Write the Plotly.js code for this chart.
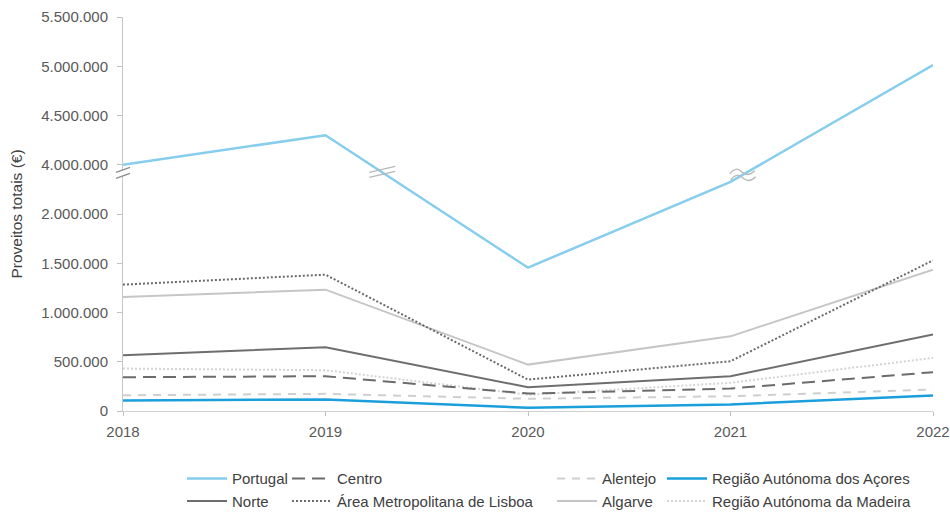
<!DOCTYPE html>
<html>
<head>
<meta charset="utf-8">
<script src="https://cdn.plot.ly/plotly-3.0.1.min.js"></script>
<style>
  html, body { margin: 0; padding: 0; background: #ffffff; }
  #chart { width: 950px; height: 513px; }
</style>
</head>
<body>
<div id="chart"></div>
<script>
// Proveitos totais (€) por região, 2018-2022
const years = [2018, 2019, 2020, 2021, 2022];

const portugal = [4000000, 4300000, 1455000, 2327000, 5013000];
const norte    = [566000, 647000, 241000, 353000, 776000];
const centro   = [343000, 353000, 177000, 228000, 394000];
const aml      = [1283000, 1384000, 319000, 505000, 1529000];
const alentejo = [160000, 174000, 124000, 150000, 218000];
const algarve  = [1158000, 1232000, 471000, 758000, 1435000];
const acores   = [106000, 117000, 32000, 66000, 157000];
const madeira  = [431000, 414000, 165000, 286000, 539000];

// Tick values shown on the (broken) value axis
const yTicksReal = [0, 500000, 1000000, 1500000, 2000000, 4000000, 4500000, 5000000, 5500000];

// Broken axis: everything from 4.000.000 upward is drawn 1.500.000 lower,
// so the 2.000.000 - 4.000.000 stretch collapses into one tick interval.
const BREAK_HIGH = 4000000, BREAK_SHIFT = 1500000;
const toAxis = v => (v >= BREAK_HIGH ? v - BREAK_SHIFT : v);
const fmt = v => String(v).replace(/\B(?=(\d{3})+(?!\d))/g, '.');

const FONT = 'Liberation Sans, Arial, sans-serif';

// rank 1 = first legend row, rank 2 = second legend row
function series(name, values, color, width, dash, legend, rank) {
  return {
    type: 'scatter', mode: 'lines', name: name,
    x: years, y: values.map(toAxis),
    line: { color: color, width: width, dash: dash },
    legend: legend, legendrank: rank, hoverinfo: 'skip'
  };
}

const traces = [
  series('Alentejo', alentejo, '#cfcfcf', 2, '8px,7px', 'legend3', 1),
  series('Região Autónoma da Madeira', madeira, '#d4d4d4', 2, '2px,2px', 'legend4', 2),
  series('Centro', centro, '#6b6b6b', 2, '13px,7px', 'legend2', 1),
  series('Algarve', algarve, '#c6c6c6', 2, 'solid', 'legend3', 2),
  series('Área Metropolitana de Lisboa', aml, '#6a6a6a', 2, '2px,2px', 'legend2', 2),
  series('Norte', norte, '#6e6e6e', 2, 'solid', 'legend', 2),
  series('Região Autónoma dos Açores', acores, '#1a9fdb', 2.5, 'solid', 'legend4', 1),
  series('Portugal', portugal, '#86cdee', 2.5, 'solid', 'legend', 1)
];

// Position on the Portugal line (axis units) at a fractional year
function onPortugal(x) {
  const i = Math.min(Math.floor(x - years[0]), years.length - 2);
  const t = x - years[i];
  const a = toAxis(portugal[i]), b = toAxis(portugal[i + 1]);
  return a + (b - a) * t;
}

const AXIS_MAX = toAxis(5500000);
const axisBreakY = 2413000 / AXIS_MAX;   // paper position of the axis break mark
const grey = '#b8b8b8';

const shapes = [
  // break mark on the value axis
  { type: 'path', xref: 'paper', yref: 'paper', xsizemode: 'pixel', ysizemode: 'pixel',
    xanchor: 0, yanchor: axisBreakY, path: 'M-7,1 L7,6 L7,0 L-7,-5 Z',
    fillcolor: '#ffffff', line: { width: 0 }, layer: 'above' },
  { type: 'line', xref: 'paper', yref: 'paper', xsizemode: 'pixel', ysizemode: 'pixel',
    xanchor: 0, yanchor: axisBreakY, x0: -7, y0: 1, x1: 7, y1: 6,
    line: { color: '#8c8c8c', width: 1.2 }, layer: 'above' },
  { type: 'line', xref: 'paper', yref: 'paper', xsizemode: 'pixel', ysizemode: 'pixel',
    xanchor: 0, yanchor: axisBreakY, x0: -7, y0: -5, x1: 7, y1: 0,
    line: { color: '#8c8c8c', width: 1.2 }, layer: 'above' },
  // break marks on the Portugal line
  { type: 'line', xref: 'x', yref: 'y', xsizemode: 'pixel', ysizemode: 'pixel',
    xanchor: 2019.28, yanchor: onPortugal(2019.28), x0: -13, y0: 0, x1: 13, y1: 6,
    line: { color: grey, width: 1.3 }, layer: 'above' },
  { type: 'line', xref: 'x', yref: 'y', xsizemode: 'pixel', ysizemode: 'pixel',
    xanchor: 2019.28, yanchor: onPortugal(2019.28), x0: -13, y0: -5, x1: 13, y1: 1,
    line: { color: grey, width: 1.3 }, layer: 'above' },
  { type: 'path', xref: 'x', yref: 'y', xsizemode: 'pixel', ysizemode: 'pixel',
    xanchor: 2021.06, yanchor: onPortugal(2021.06),
    path: 'M-13,1 Q-7,9 -1,3 T12,4 M-12,-5 Q-6,3 0,-3 T13,-2',
    line: { color: grey, width: 1.3 }, layer: 'above' }
];

const legendBase = {
  orientation: 'v', bgcolor: 'rgba(0,0,0,0)', borderwidth: 0,
  font: { family: FONT, size: 15, color: '#404040' },
  itemwidth: 40, xanchor: 'left', yanchor: 'top', y: -0.13,
  traceorder: 'normal', itemclick: false, itemdoubleclick: false
};
const px = p => (p - 123) / 810;

const layout = {
  width: 950, height: 513,
  margin: { l: 123, r: 17, t: 17, b: 101.5, autoexpand: false },
  paper_bgcolor: '#ffffff', plot_bgcolor: '#ffffff',
  font: { family: FONT, color: '#595959' },
  showlegend: true,
  xaxis: {
    range: [2018, 2022], tickvals: years, ticktext: years.map(String),
    showgrid: false, zeroline: false, showline: true, linecolor: '#d0d0d0', linewidth: 1,
    ticks: 'outside', ticklen: 4, tickcolor: '#c0c0c0', ticklabelstandoff: 3,
    tickfont: { family: FONT, size: 15, color: '#595959' }
  },
  yaxis: {
    range: [0, AXIS_MAX], tickvals: yTicksReal.map(toAxis), ticktext: yTicksReal.map(fmt),
    showgrid: false, zeroline: false, showline: true, linecolor: '#c8c8c8', linewidth: 1,
    ticks: 'outside', ticklen: 5, tickcolor: '#c0c0c0', ticklabelstandoff: 6,
    tickfont: { family: FONT, size: 15, color: '#595959' },
    title: { text: 'Proveitos totais (€)', font: { family: FONT, size: 15.5, color: '#404040' }, standoff: 14 }
  },
  legend:  Object.assign({}, legendBase, { x: px(182) }),
  legend2: Object.assign({}, legendBase, { x: px(287) }),
  legend3: Object.assign({}, legendBase, { x: px(552) }),
  legend4: Object.assign({}, legendBase, { x: px(662) }),
  shapes: shapes
};

Plotly.newPlot('chart', traces, layout, { staticPlot: true, displayModeBar: false });
</script>
</body>
</html>
